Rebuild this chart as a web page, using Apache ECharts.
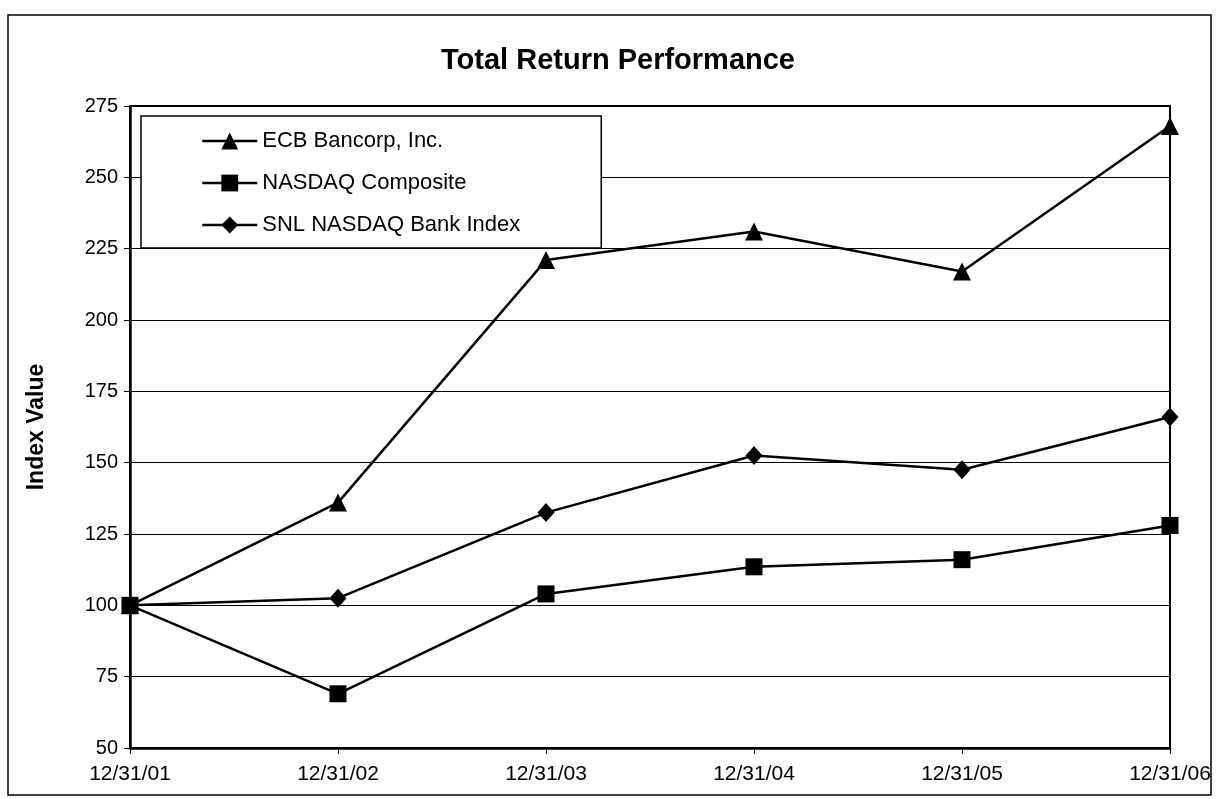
<!DOCTYPE html>
<html>
<head>
<meta charset="utf-8">
<script src="https://cdn.jsdelivr.net/npm/echarts@6/dist/echarts.min.js"></script>
<style>
html,body{margin:0;padding:0;background:#fff;}
#c{width:1221px;height:799px;}
</style>
</head>
<body>
<div id="c"></div>
<script>
var categories = ['12/31/01', '12/31/02', '12/31/03', '12/31/04', '12/31/05', '12/31/06'];
var ecbValues = [100, 136, 221, 231, 217, 268];
var nasdaqValues = [100, 69, 104, 113.5, 116, 128];
var snlValues = [100, 102.5, 132.5, 152.5, 147.5, 166];
var seriesNames = ['ECB Bancorp, Inc.', 'NASDAQ Composite', 'SNL NASDAQ Bank Index'];
var yMin = 50, yMax = 275, yStep = 25;

var FONT = '"Liberation Sans", Arial, Helvetica, sans-serif';
var chart = echarts.init(document.getElementById('c'), null, {renderer: 'canvas'});

function lineSeries(name, data, symbol, size, z) {
  return {
    name: name, type: 'line', data: data,
    symbol: symbol, symbolSize: size, z: z,
    lineStyle: {color: '#000', width: 2.5},
    itemStyle: {color: '#000'},
    emphasis: {disabled: true},
    animation: false
  };
}

chart.setOption({
  backgroundColor: '#fff',
  animation: false,
  title: {
    text: 'Total Return Performance',
    left: 613, top: 41, textAlign: 'center',
    textStyle: {fontFamily: FONT, fontSize: 29, fontWeight: 'bold', color: '#000'}
  },
  graphic: [{
    type: 'rect', shape: {x: 8, y: 15, width: 1203, height: 780},
    style: {fill: null, stroke: '#000', lineWidth: 1.5}, silent: true, z: -1
  }],
  legend: {
    data: seriesNames,
    orient: 'vertical',
    left: 141, top: 116,
    padding: [14, 81, 12, 60],
    itemWidth: 55, itemHeight: 21, itemGap: 20,
    borderColor: '#000', borderWidth: 1.5,
    backgroundColor: '#fff',
    lineStyle: {width: 2.5, color: '#000'},
    textStyle: {fontFamily: FONT, fontSize: 22, color: '#000', padding: [0,0,0,0]},
    selectedMode: false
  },
  grid: {
    left: 130, right: 51, top: 106, bottom: 51,
    show: true, borderColor: '#000', borderWidth: 2, backgroundColor: 'transparent'
  },
  xAxis: {
    type: 'category', data: categories, boundaryGap: false,
    axisLine: {lineStyle: {color: '#000', width: 2.5}},
    axisTick: {show: true, alignWithLabel: true, length: 6, lineStyle: {color: '#000', width: 1}},
    axisLabel: {fontFamily: FONT, fontSize: 21, color: '#000', margin: 16},
    splitLine: {show: false}
  },
  yAxis: {
    type: 'value', min: yMin, max: yMax, interval: yStep,
    name: 'Index Value', nameLocation: 'middle', nameRotate: 90, nameGap: 82,
    nameTextStyle: {fontFamily: FONT, fontSize: 23, fontWeight: 'bold', color: '#000'},
    axisLine: {show: true, lineStyle: {color: '#000', width: 2.5}},
    axisTick: {show: true, length: 6, lineStyle: {color: '#000', width: 1}},
    axisLabel: {fontFamily: FONT, fontSize: 20, color: '#000', margin: 12},
    splitLine: {show: true, lineStyle: {color: '#000', width: 1}}
  },
  series: [
    lineSeries(seriesNames[0], ecbValues, 'triangle', 18, 2),
    lineSeries(seriesNames[2], snlValues, 'diamond', [17, 19], 3),
    lineSeries(seriesNames[1], nasdaqValues, 'rect', 17, 4)
  ]
});
</script>
</body>
</html>
